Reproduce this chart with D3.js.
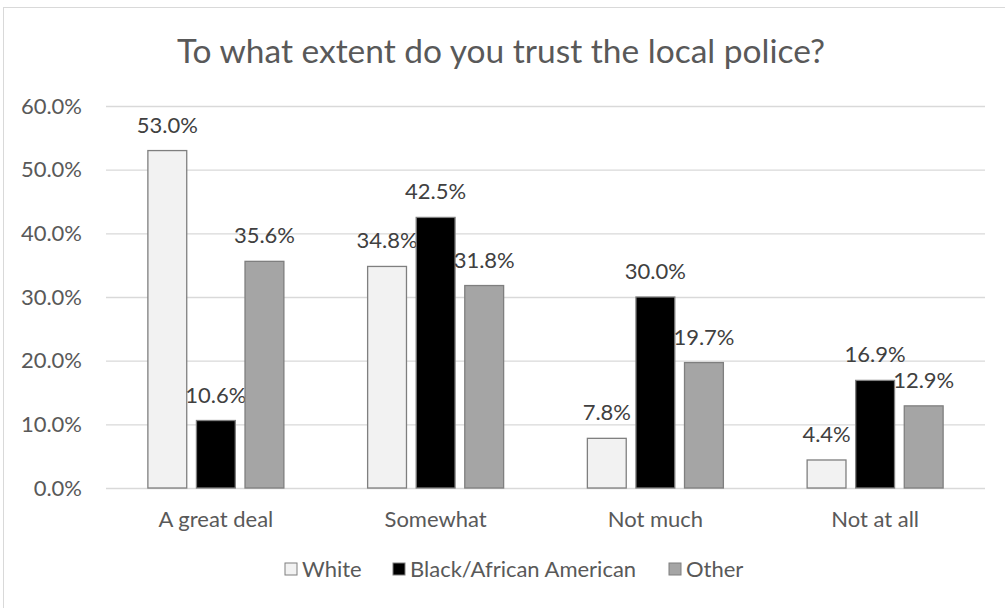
<!DOCTYPE html>
<html><head><meta charset="utf-8">
<script src="https://cdn.jsdelivr.net/npm/d3@7"></script>
<style>body{margin:0;background:#fff}svg{display:block}text{font-family:Lato,"Open Sans",sans-serif}</style>
</head><body><svg id="c" width="1005" height="608"></svg>
<script>
const categories = ["A great deal","Somewhat","Not much","Not at all"];
const seriesNames = ["White","Black/African American","Other"];
const white = [0.530,0.348,0.078,0.044];
const black = [0.106,0.425,0.300,0.169];
const other = [0.356,0.318,0.197,0.129];
const yTicks = [0,0.1,0.2,0.3,0.4,0.5,0.6];
const title = "To what extent do you trust the local police?";

const seriesValues = [white, black, other];
const fills = ["#f2f2f2","#000000","#a5a5a5"];
const FONT = "Lato";
const svg = d3.select("#c");
svg.append("rect").attr("x",3.5).attr("y",7.5).attr("width",1010).attr("height",610)
  .attr("fill","#fff").attr("stroke","#d9d9d9");

const y = d3.scaleLinear().domain([0,0.6]).range([488,106]);
const x = d3.scaleBand().domain(categories).range([106,985]);
const xs = d3.scaleBand().domain(seriesNames).range([0,136]).paddingInner(0.2);
const fmt = d3.format(".1%");

svg.append("text").attr("x",501).attr("y",63).attr("text-anchor","middle")
  .attr("fill","#595959").style("font-size","33.5px").text(title);

const ya = svg.append("g").attr("transform","translate(106,0)")
  .call(d3.axisLeft(y).tickValues(yTicks).tickFormat(fmt).tickSize(-879).tickPadding(24));
ya.select(".domain").remove();
ya.selectAll("line").attr("stroke","#d9d9d9").attr("stroke-width",1.3);
ya.selectAll("text").attr("fill","#595959").style("font-size","22px").style("font-family",FONT);

const xa = svg.append("g").attr("transform","translate(0,488)")
  .call(d3.axisBottom(x).tickSize(0).tickPadding(0));
xa.select(".domain").remove();
xa.selectAll("text").attr("dy",null).attr("y",39).attr("fill","#595959").style("font-size","22px").style("font-family",FONT);

const groups = svg.append("g").selectAll("g").data(categories).join("g")
  .attr("transform",d=>`translate(${x(d)+x.bandwidth()/2-68},0)`);
seriesNames.forEach((s,si)=>{
  groups.append("rect")
    .attr("x",xs(s)).attr("width",xs.bandwidth())
    .attr("y",(d,i)=>y(seriesValues[si][i]))
    .attr("height",(d,i)=>y(0)-y(seriesValues[si][i]))
    .attr("fill",fills[si]).attr("stroke","#7f7f7f").attr("stroke-width",1.3);
  groups.append("text")
    .attr("x",xs(s)+xs.bandwidth()/2)
    .attr("y",(d,i)=>y(seriesValues[si][i])-18)
    .attr("text-anchor","middle").attr("fill","#404040").style("font-size","22px")
    .text((d,i)=>fmt(seriesValues[si][i]));
});

const legX = [285,393,669];
const leg = svg.append("g").selectAll("g").data(seriesNames).join("g")
  .attr("transform",(d,i)=>`translate(${legX[i]},563)`);
leg.append("rect").attr("width",12).attr("height",12)
  .attr("fill",(d,i)=>fills[i]).attr("stroke","#7f7f7f");
leg.append("text").attr("x",17).attr("y",14).attr("fill","#595959").style("font-size","22px").text(d=>d);
</script></body></html>
